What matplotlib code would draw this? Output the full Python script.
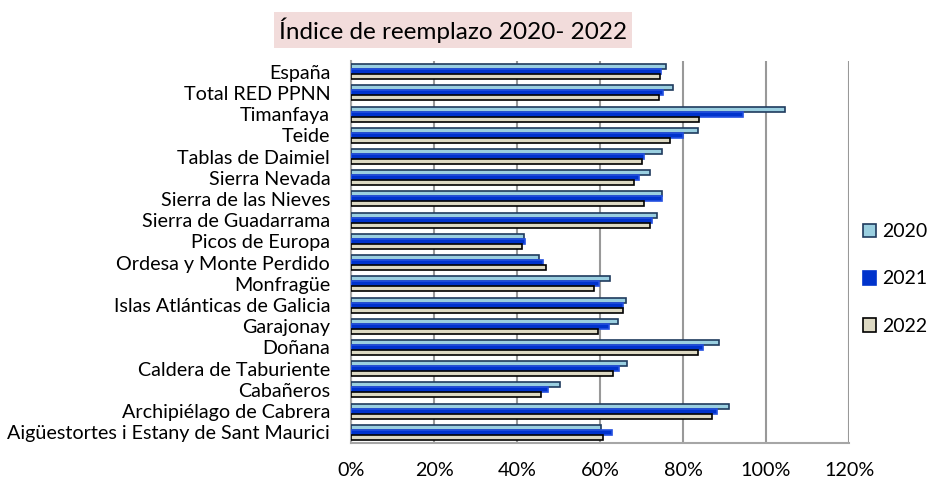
import matplotlib
matplotlib.use("Agg")
import matplotlib.pyplot as plt
from matplotlib.patches import Patch
from matplotlib.ticker import FuncFormatter
import numpy as np

plt.rcParams['font.family'] = ['Lato', 'DejaVu Sans']

categories = ["España", "Total RED PPNN", "Timanfaya", "Teide", "Tablas de Daimiel",
              "Sierra Nevada", "Sierra de las Nieves", "Sierra de Guadarrama",
              "Picos de Europa", "Ordesa y Monte Perdido", "Monfragüe",
              "Islas Atlánticas de Galicia", "Garajonay", "Doñana",
              "Caldera de Taburiente", "Cabañeros", "Archipiélago de Cabrera",
              "Aigüestortes i Estany de Sant Maurici"]
v2020 = [75.8, 77.5, 104.5, 83.5, 75.0, 72.1, 75.0, 73.8, 41.8, 45.4, 62.4, 66.2,
         64.3, 88.6, 66.6, 50.4, 91.2, 60.2]
v2021 = [74.6, 75.3, 94.5, 79.9, 70.7, 69.3, 74.9, 72.6, 42.0, 46.3, 59.8, 65.5,
         62.2, 84.8, 64.5, 47.5, 88.1, 63.0]
v2022 = [74.5, 74.1, 83.9, 76.9, 70.2, 68.3, 70.7, 72.0, 41.1, 47.0, 58.6, 65.5,
         59.4, 83.5, 63.2, 45.9, 87.0, 60.8]
years = ["2020", "2021", "2022"]
xticks = [0, 20, 40, 60, 80, 100, 120]

fill = ["#9ACFE0", "#0033CC", "#DDD9C3"]
edge = ["#1F3B5E", "#2450E0", "#000000"]

fig = plt.figure(figsize=(9.29, 4.79), dpi=100)
ax = fig.add_axes([351/929, (479-443)/479, (849-351)/929, (443-61)/479])

y = np.arange(len(categories))
h = 0.235
for i, vals in enumerate([v2020, v2021, v2022]):
    ax.barh(y + (i - 1) * h, vals, height=h, color=fill[i], edgecolor=edge[i],
            linewidth=1.2, zorder=3)

ax.set_ylim(len(categories) - 0.5, -0.5)
ax.set_xlim(0, 120)
ax.set_xticks(xticks)
ax.xaxis.set_major_formatter(FuncFormatter(lambda v, p: f"{int(v)}%"))
ax.set_yticks(y)
ax.set_yticklabels(categories)
ax.tick_params(axis='both', length=0, labelsize=14.2)
ax.tick_params(axis='x', pad=14)
ax.tick_params(axis='y', pad=15)
ax.grid(axis='x', color='#999999', linewidth=1.5, zorder=0)
for s in ['top', 'right']:
    ax.spines[s].set_visible(False)
for s in ['left', 'bottom']:
    ax.spines[s].set_color('#A6A6A6')
    ax.spines[s].set_linewidth(1.5)

handles = [Patch(facecolor=fill[i], edgecolor=edge[i] if i != 1 else fill[i], linewidth=1.2)
           for i in range(3)]
fig.legend(handles, years, loc='center left', bbox_to_anchor=(855/929, 1 - 279/479),
           frameon=False, fontsize=14, handlelength=0.7, handleheight=0.7,
           handletextpad=0.3, labelspacing=1.55, borderaxespad=0)

fig.text(453/929, 1 - 30/479, "Índice de reemplazo 2020- 2022", ha='center', va='center',
         fontsize=17.5,
         bbox=dict(boxstyle='square,pad=0.2', facecolor='#F2DCDB', edgecolor='none'))

fig.savefig("out.png", dpi=100)
